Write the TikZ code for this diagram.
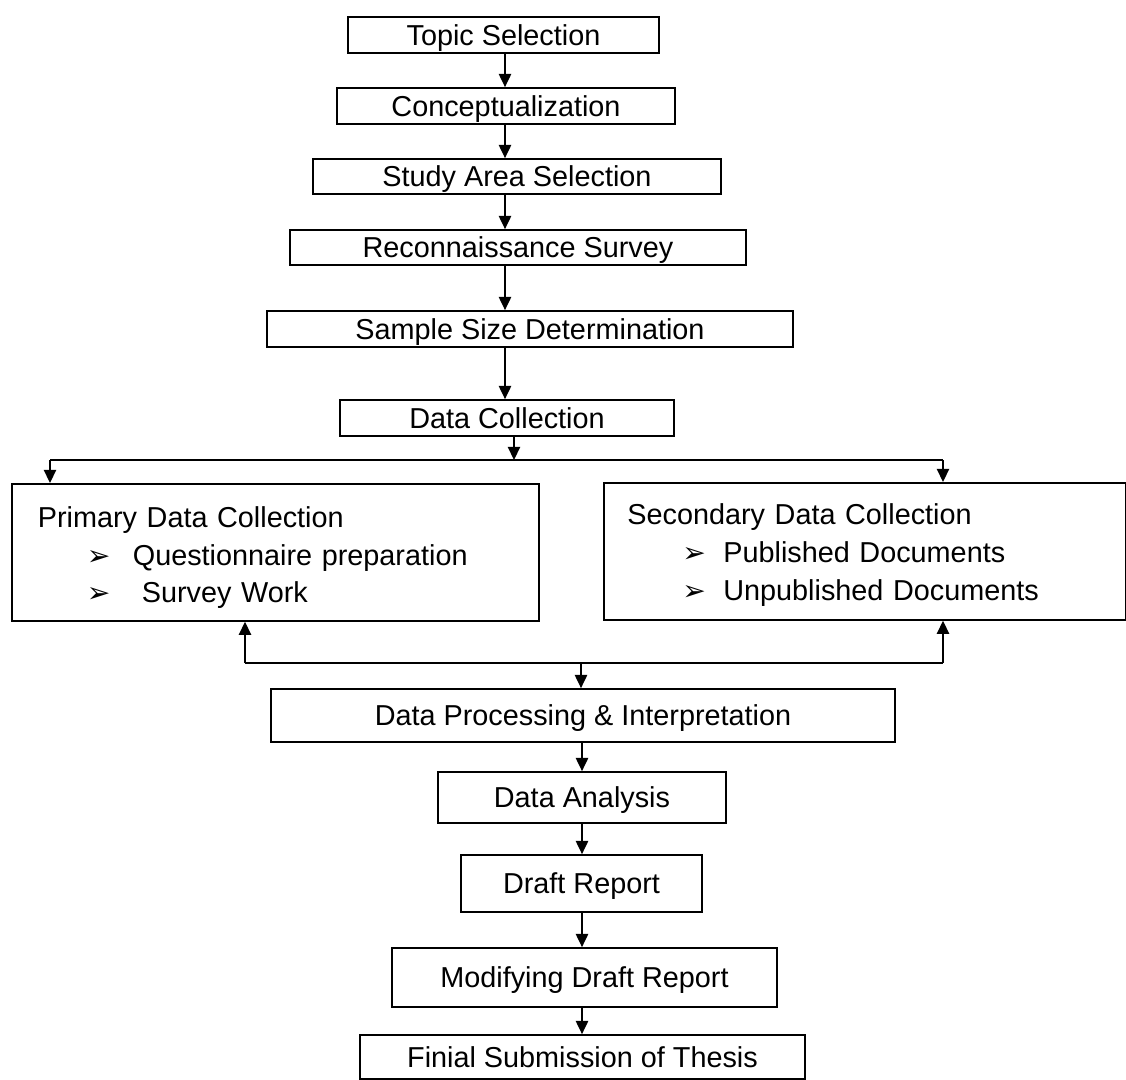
\documentclass[tikz,border=0pt]{standalone}
\usepackage{fontspec}
\setmainfont{Liberation Sans}
\newfontfamily\bulfont{DejaVu Sans}
\usepackage{tikz}
\usetikzlibrary{positioning,arrows.meta}
\tikzset{
  boxbase/.style={rectangle, draw, line width=1pt, inner sep=2pt,
                  font=\fontsize{16.4}{21.5}\selectfont},
  stepbox/.style={boxbase, text depth=0pt},
  listbox/.style={boxbase, anchor=north west, align=left, minimum height=2.74cm},
  arr/.style={-{Triangle[length=7.5pt,width=7pt]}, line width=0.9pt},
  link/.style={line width=0.9pt},
}
\newcommand{\bul}[1]{\makebox[#1][l]{\bulfont\fontsize{16}{16}\selectfont ➢}}

\begin{document}
\begin{tikzpicture}[x=0.02cm, y=-0.02cm]
\useasboundingbox (0,0) rectangle (1126,1079);
%Nodes
\node[stepbox, minimum width=6.22cm, minimum height=0.72cm] (topic) at (503.5,35) {Topic Selection};
\node[stepbox, minimum width=6.76cm, minimum height=0.72cm] (concept) at (506,106) {Conceptualization};
\node[stepbox, minimum width=8.16cm, minimum height=0.70cm] (study) at (517,176.5) {Study Area Selection};
\node[stepbox, minimum width=9.12cm, minimum height=0.70cm] (recon) at (518,247.5) {Reconnaissance Survey};
\node[stepbox, minimum width=10.52cm, minimum height=0.72cm] (sample) at (530,329) {Sample Size Determination};
\node[stepbox, minimum width=6.68cm, minimum height=0.72cm] (dcoll) at (507,418) {Data Collection};

\node[listbox, minimum width=10.54cm, inner xsep=0.46cm, text width=9.5cm] (prim) at (11,483)
  {\rule{0pt}{18pt}Primary Data Collection\\
   \hspace*{0.98cm}\bul{0.92cm}Questionnaire preparation\\
   \hspace*{0.98cm}\bul{0.92cm}\hspace*{0.18cm}Survey Work};
\node[listbox, minimum width=10.44cm, inner xsep=0.44cm, text width=9.5cm] (sec) at (603,482)
  {\rule{0pt}{16pt}Secondary Data Collection\\
   \hspace*{1.1cm}\bul{0.82cm}Published Documents\\
   \hspace*{1.1cm}\bul{0.82cm}Unpublished Documents};

\node[stepbox, minimum width=12.48cm, minimum height=1.06cm] (dpi) at (583,715.5) {Data Processing \& Interpretation};
\node[stepbox, minimum width=5.76cm, minimum height=1.02cm] (analysis) at (582,797.5) {Data Analysis};
\node[stepbox, minimum width=4.82cm, minimum height=1.14cm] (draft) at (581.5,883.5) {Draft Report};
\node[stepbox, minimum width=7.7cm, minimum height=1.18cm] (modify) at (584.5,977.5) {Modifying Draft Report};
\node[stepbox, minimum width=8.9cm, minimum height=0.88cm] (final) at (582.5,1057) {Finial Submission of Thesis};

%Coordinates
\coordinate (spine) at (505,0);
\coordinate (spine2) at (582,0);
\coordinate (split) at (514,460);
\coordinate (sleft) at (50,460);
\coordinate (sright) at (943,460);
\coordinate (merge) at (581,663);
\coordinate (mleft) at (245,663);
\coordinate (mright) at (943,663);

%Lines
\draw[arr] (topic.south -| spine) -- (concept.north -| spine);
\draw[arr] (concept.south -| spine) -- (study.north -| spine);
\draw[arr] (study.south -| spine) -- (recon.north -| spine);
\draw[arr] (recon.south -| spine) -- (sample.north -| spine);
\draw[arr] (sample.south -| spine) -- (dcoll.north -| spine);
\draw[arr] (dcoll.south -| split) -- (split);
\draw[link] (sleft) -- (sright);
\draw[arr] (sleft) -- (sleft |- prim.north);
\draw[arr] (sright) -- (sright |- sec.north);

\draw[link] (mleft) -- (mright);
\draw[arr] (mleft) -- (mleft |- prim.south);
\draw[arr] (mright) -- (mright |- sec.south);
\draw[arr] (merge) -- (merge |- dpi.north);

\draw[arr] (dpi.south -| spine2) -- (analysis.north -| spine2);
\draw[arr] (analysis.south -| spine2) -- (draft.north -| spine2);
\draw[arr] (draft.south -| spine2) -- (modify.north -| spine2);
\draw[arr] (modify.south -| spine2) -- (final.north -| spine2);
\end{tikzpicture}
\end{document}
